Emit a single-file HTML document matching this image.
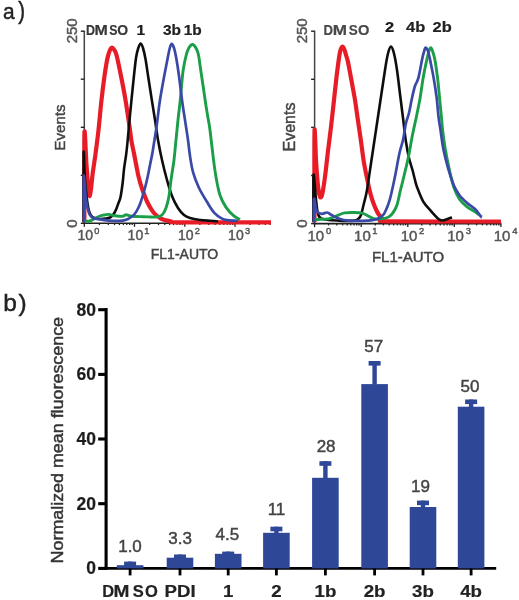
<!DOCTYPE html>
<html><head><meta charset="utf-8"><style>
html,body{margin:0;padding:0;background:#fff;width:519px;height:600px;overflow:hidden;}
svg{display:block;}
text{font-family:"Liberation Sans",sans-serif;}
</style></head><body>
<svg width="519" height="600" viewBox="0 0 519 600">
<defs><filter id="sf" x="0" y="0" width="100%" height="100%"><feGaussianBlur stdDeviation="0.45"/></filter></defs>
<g filter="url(#sf)">
<rect width="519" height="600" fill="#fff"/>
<text transform="translate(3.1,18.9) scale(0.93,1)" font-size="22.5" fill="#222" stroke="#222" stroke-width="0.45">a</text>
<text transform="translate(18.15,18.9) scale(0.85,1)" font-size="24" fill="#222" stroke="#222" stroke-width="0.45">)</text>
<text x="3.3" y="310.9" font-size="24.5" fill="#222" stroke="#222" stroke-width="0.45">b</text>
<text x="18.5" y="310.9" font-size="24.5" fill="#222" stroke="#222" stroke-width="0.45">)</text>
<line x1="84.3" y1="30.7" x2="84.3" y2="224.0" stroke="#444" stroke-width="1.5"/>
<line x1="80.8" y1="31.2" x2="84.3" y2="31.2" stroke="#222" stroke-width="1.4"/>
<line x1="80.8" y1="79.2" x2="84.3" y2="79.2" stroke="#222" stroke-width="1.4"/>
<line x1="80.8" y1="127.3" x2="84.3" y2="127.3" stroke="#222" stroke-width="1.4"/>
<line x1="80.8" y1="175.3" x2="84.3" y2="175.3" stroke="#222" stroke-width="1.4"/>
<line x1="80.8" y1="223.3" x2="84.3" y2="223.3" stroke="#222" stroke-width="1.4"/>
<line x1="83.5" y1="223.3" x2="271" y2="223.3" stroke="#222" stroke-width="1.6"/>
<line x1="84.3" y1="223.3" x2="84.3" y2="226.8" stroke="#222" stroke-width="1.3"/>
<line x1="99.4" y1="223.3" x2="99.4" y2="225.10000000000002" stroke="#222" stroke-width="1.3"/>
<line x1="108.3" y1="223.3" x2="108.3" y2="225.10000000000002" stroke="#222" stroke-width="1.3"/>
<line x1="114.5" y1="223.3" x2="114.5" y2="225.10000000000002" stroke="#222" stroke-width="1.3"/>
<line x1="119.4" y1="223.3" x2="119.4" y2="225.10000000000002" stroke="#222" stroke-width="1.3"/>
<line x1="123.4" y1="223.3" x2="123.4" y2="225.10000000000002" stroke="#222" stroke-width="1.3"/>
<line x1="126.7" y1="223.3" x2="126.7" y2="225.10000000000002" stroke="#222" stroke-width="1.3"/>
<line x1="129.7" y1="223.3" x2="129.7" y2="225.10000000000002" stroke="#222" stroke-width="1.3"/>
<line x1="132.2" y1="223.3" x2="132.2" y2="225.10000000000002" stroke="#222" stroke-width="1.3"/>
<line x1="134.5" y1="223.3" x2="134.5" y2="226.8" stroke="#222" stroke-width="1.3"/>
<line x1="149.7" y1="223.3" x2="149.7" y2="225.10000000000002" stroke="#222" stroke-width="1.3"/>
<line x1="158.5" y1="223.3" x2="158.5" y2="225.10000000000002" stroke="#222" stroke-width="1.3"/>
<line x1="164.8" y1="223.3" x2="164.8" y2="225.10000000000002" stroke="#222" stroke-width="1.3"/>
<line x1="169.6" y1="223.3" x2="169.6" y2="225.10000000000002" stroke="#222" stroke-width="1.3"/>
<line x1="173.6" y1="223.3" x2="173.6" y2="225.10000000000002" stroke="#222" stroke-width="1.3"/>
<line x1="177.0" y1="223.3" x2="177.0" y2="225.10000000000002" stroke="#222" stroke-width="1.3"/>
<line x1="179.9" y1="223.3" x2="179.9" y2="225.10000000000002" stroke="#222" stroke-width="1.3"/>
<line x1="182.5" y1="223.3" x2="182.5" y2="225.10000000000002" stroke="#222" stroke-width="1.3"/>
<line x1="184.8" y1="223.3" x2="184.8" y2="226.8" stroke="#222" stroke-width="1.3"/>
<line x1="199.9" y1="223.3" x2="199.9" y2="225.10000000000002" stroke="#222" stroke-width="1.3"/>
<line x1="208.7" y1="223.3" x2="208.7" y2="225.10000000000002" stroke="#222" stroke-width="1.3"/>
<line x1="215.0" y1="223.3" x2="215.0" y2="225.10000000000002" stroke="#222" stroke-width="1.3"/>
<line x1="219.9" y1="223.3" x2="219.9" y2="225.10000000000002" stroke="#222" stroke-width="1.3"/>
<line x1="223.8" y1="223.3" x2="223.8" y2="225.10000000000002" stroke="#222" stroke-width="1.3"/>
<line x1="227.2" y1="223.3" x2="227.2" y2="225.10000000000002" stroke="#222" stroke-width="1.3"/>
<line x1="230.1" y1="223.3" x2="230.1" y2="225.10000000000002" stroke="#222" stroke-width="1.3"/>
<line x1="232.7" y1="223.3" x2="232.7" y2="225.10000000000002" stroke="#222" stroke-width="1.3"/>
<line x1="235.0" y1="223.3" x2="235.0" y2="226.8" stroke="#222" stroke-width="1.3"/>
<line x1="250.1" y1="223.3" x2="250.1" y2="225.10000000000002" stroke="#222" stroke-width="1.3"/>
<line x1="259.0" y1="223.3" x2="259.0" y2="225.10000000000002" stroke="#222" stroke-width="1.3"/>
<line x1="265.2" y1="223.3" x2="265.2" y2="225.10000000000002" stroke="#222" stroke-width="1.3"/>
<line x1="270.1" y1="223.3" x2="270.1" y2="225.10000000000002" stroke="#222" stroke-width="1.3"/>
<text x="85.2" y="240.4" font-size="14" fill="#555" text-anchor="middle" stroke="#555" stroke-width="0.45">10</text><text x="94.3" y="233.5" font-size="9.2" fill="#555" stroke="#555" stroke-width="0.45">0</text>
<text x="135.4" y="240.4" font-size="14" fill="#555" text-anchor="middle" stroke="#555" stroke-width="0.45">10</text><text x="144.2" y="233.5" font-size="9.2" fill="#555" stroke="#555" stroke-width="0.45">1</text>
<text x="185.7" y="240.4" font-size="14" fill="#555" text-anchor="middle" stroke="#555" stroke-width="0.45">10</text><text x="194.7" y="233.5" font-size="9.2" fill="#555" stroke="#555" stroke-width="0.45">2</text>
<text x="235.9" y="240.4" font-size="14" fill="#555" text-anchor="middle" stroke="#555" stroke-width="0.45">10</text><text x="245.0" y="233.5" font-size="9.2" fill="#555" stroke="#555" stroke-width="0.45">3</text>
<text x="184.5" y="258.5" font-size="14" fill="#444" text-anchor="middle" stroke="#444" stroke-width="0.45">FL1-AUTO</text>
<text transform="translate(77.3,30.8) rotate(-90)" font-size="15" fill="#555" text-anchor="middle" stroke="#555" stroke-width="0.45">250</text>
<text transform="translate(77.0,223.5) rotate(-90)" font-size="15" fill="#555" text-anchor="middle" stroke="#555" stroke-width="0.45">0</text>
<text transform="translate(64.9,127.5) rotate(-90)" font-size="15" fill="#444" text-anchor="middle" stroke="#444" stroke-width="0.45">Events</text>
<text transform="translate(86.00,35.30) scale(0.86,1)" font-size="14.5" font-weight="bold" fill="#383838" text-anchor="start" stroke="#383838" stroke-width="0.2">D</text>
<text transform="translate(94.60,35.30) scale(1.1,1)" font-size="14.5" font-weight="bold" fill="#383838" text-anchor="start" stroke="#383838" stroke-width="0.2">M</text>
<text transform="translate(109.14,35.30) scale(0.85,1)" font-size="14.5" font-weight="bold" fill="#383838" text-anchor="start" stroke="#383838" stroke-width="0.2">S</text>
<text transform="translate(117.23,35.30) scale(0.96,1)" font-size="14.5" font-weight="bold" fill="#383838" text-anchor="start" stroke="#383838" stroke-width="0.2">O</text>
<text transform="translate(140.70,35.10) scale(1.12,1)" font-size="13.8" font-weight="bold" fill="#1a1a1a" text-anchor="middle" stroke="#1a1a1a" stroke-width="0.2">1</text>
<text transform="translate(172.00,35.10) scale(1.12,1)" font-size="13.8" font-weight="bold" fill="#222" text-anchor="middle" stroke="#222" stroke-width="0.2">3b</text>
<text transform="translate(192.80,35.10) scale(1.12,1)" font-size="13.8" font-weight="bold" fill="#222" text-anchor="middle" stroke="#222" stroke-width="0.2">1b</text>
<path d="M84.4,222.3 C84.4,207.4 84.1,142.6 84.4,133.0 C84.8,123.5 85.8,155.8 86.5,165.0 C87.2,174.2 87.8,182.8 88.3,188.0 C88.8,193.2 89.0,195.8 89.5,196.0 C90.0,196.2 90.5,192.5 91.0,189.0 C91.5,185.5 91.8,180.8 92.5,175.0 C93.2,169.2 94.5,161.5 95.5,154.0 C96.5,146.5 97.5,139.0 98.5,130.0 C99.5,121.0 100.5,109.0 101.5,100.0 C102.5,91.0 103.5,83.0 104.5,76.0 C105.5,69.0 106.6,62.3 107.5,58.0 C108.4,53.7 109.2,51.8 110.0,50.0 C110.8,48.2 111.3,47.6 112.0,47.5 C112.7,47.4 113.2,48.2 114.0,49.5 C114.8,50.8 115.3,50.6 116.5,55.0 C117.7,59.4 119.5,68.5 121.0,76.0 C122.5,83.5 124.0,91.0 125.5,100.0 C127.0,109.0 129.0,123.3 130.0,130.0 C131.0,136.7 130.7,136.2 131.3,140.0 C131.9,143.8 132.9,148.3 133.8,152.5 C134.6,156.7 135.4,160.8 136.2,165.0 C137.1,169.2 137.7,173.3 138.8,177.5 C139.8,181.7 141.0,185.8 142.5,190.0 C144.0,194.2 145.7,198.8 147.5,202.5 C149.3,206.2 151.3,209.8 153.5,212.5 C155.7,215.2 158.1,217.1 160.9,218.6 C163.8,220.1 167.4,220.7 170.6,221.3 C173.8,221.9 163.3,222.1 180.0,222.3 C196.7,222.5 255.8,222.3 271.0,222.3" fill="none" stroke="#e81f28" stroke-width="4.2" stroke-linejoin="round" stroke-linecap="butt"/>
<path d="M83.6,222.3 C83.6,210.8 83.4,160.7 83.6,153.0 C83.8,145.3 84.4,169.3 84.8,176.0 C85.2,182.7 85.7,188.3 86.2,193.0 C86.7,197.7 87.1,201.0 87.6,204.0 C88.1,207.0 88.4,209.1 89.0,211.0 C89.6,212.9 90.1,214.3 91.0,215.5 C91.9,216.7 93.0,217.4 94.5,218.0 C96.0,218.6 98.1,218.9 100.0,219.0 C101.9,219.1 104.3,218.8 106.0,218.6 C107.7,218.3 108.9,218.0 110.0,217.5 C111.1,217.0 111.7,216.3 112.5,215.5 C113.3,214.7 113.9,213.7 114.6,212.5 C115.3,211.3 115.9,210.0 116.5,208.5 C117.1,207.0 117.6,205.5 118.3,203.5 C119.0,201.5 119.9,200.2 120.6,196.7 C121.3,193.2 122.1,187.2 122.7,182.5 C123.3,177.8 123.5,173.0 124.1,168.3 C124.7,163.6 125.6,158.9 126.2,154.2 C126.8,149.5 127.1,146.5 127.7,140.0 C128.3,133.5 129.1,124.2 130.0,115.0 C130.9,105.8 132.0,94.5 133.0,85.0 C134.0,75.5 135.1,64.2 136.0,58.0 C136.9,51.8 137.7,49.9 138.5,47.5 C139.3,45.1 139.9,43.4 140.7,43.5 C141.4,43.6 142.2,45.4 143.0,48.0 C143.8,50.6 144.6,54.0 145.5,59.0 C146.4,64.0 147.4,71.5 148.4,78.0 C149.4,84.5 150.4,91.0 151.5,98.0 C152.6,105.0 153.9,113.0 155.0,120.0 C156.1,127.0 156.8,133.3 158.0,140.0 C159.2,146.7 160.5,153.3 162.0,160.0 C163.5,166.7 165.3,174.0 167.0,180.0 C168.7,186.0 170.2,191.3 172.0,196.0 C173.8,200.7 176.0,204.8 178.0,208.0 C180.0,211.2 182.0,213.3 184.0,215.0 C186.0,216.7 187.3,217.2 190.0,218.0 C192.7,218.8 196.7,219.5 200.0,220.0 C203.3,220.5 207.0,220.6 210.0,220.8 C213.0,221.1 216.7,221.4 218.0,221.5" fill="none" stroke="#111" stroke-width="2.6" stroke-linejoin="round" stroke-linecap="butt"/>
<path d="M84.5,221.3 C85.4,221.2 88.2,221.5 90.0,221.0 C91.8,220.5 93.7,219.0 95.4,218.2 C97.1,217.4 98.7,216.5 100.0,216.0 C101.3,215.5 101.6,215.5 103.1,215.2 C104.6,214.9 107.0,214.3 108.9,214.4 C110.8,214.5 112.5,215.4 114.7,215.7 C117.0,216.0 120.5,216.5 122.4,216.3 C124.3,216.2 124.6,214.8 126.2,214.8 C127.8,214.8 129.1,216.0 132.0,216.3 C134.9,216.6 140.6,216.6 143.6,216.7 C146.6,216.8 147.9,216.9 150.0,217.0 C152.1,217.1 154.0,217.3 156.0,217.0 C158.0,216.7 160.3,216.5 162.0,215.0 C163.7,213.5 164.8,211.2 166.0,208.0 C167.2,204.8 168.2,200.7 169.0,196.0 C169.8,191.3 170.2,186.0 171.0,180.0 C171.8,174.0 173.2,166.7 174.0,160.0 C174.8,153.3 175.3,146.7 176.0,140.0 C176.7,133.3 177.3,126.7 178.0,120.0 C178.7,113.3 179.7,105.8 180.3,100.0 C180.9,94.2 181.1,90.0 181.6,85.0 C182.1,80.0 182.5,74.8 183.2,70.0 C183.9,65.2 185.1,59.7 186.0,56.0 C186.9,52.3 187.7,49.9 188.8,48.0 C189.9,46.1 191.2,44.5 192.4,44.5 C193.6,44.5 195.0,46.2 196.0,48.0 C197.0,49.8 197.8,51.6 198.5,55.0 C199.2,58.4 199.8,63.7 200.5,68.5 C201.2,73.3 202.0,78.5 202.8,84.0 C203.6,89.5 204.5,95.8 205.3,101.3 C206.1,106.8 207.0,111.9 207.8,116.7 C208.6,121.5 209.1,123.0 210.0,130.0 C210.9,137.0 212.4,150.9 213.4,158.9 C214.4,166.9 215.1,172.1 216.2,178.2 C217.3,184.3 218.5,190.7 220.1,195.5 C221.7,200.3 223.7,203.7 225.9,207.1 C228.2,210.5 231.2,213.6 233.6,215.7 C235.9,217.8 238.9,218.9 240.0,219.5" fill="none" stroke="#1a9e4a" stroke-width="2.9" stroke-linejoin="round" stroke-linecap="butt"/>
<path d="M84.0,222.3 C84.0,214.6 83.5,179.7 83.8,176.0 C84.1,172.3 85.1,193.8 86.0,200.0 C86.9,206.2 88.0,210.1 89.0,213.0 C90.0,215.9 90.8,216.6 92.0,217.5 C93.2,218.4 93.2,218.1 96.0,218.6 C98.8,219.1 104.6,220.3 109.0,220.6 C113.4,220.9 119.2,220.9 122.4,220.6 C125.6,220.3 126.4,219.7 128.0,219.0 C129.6,218.3 130.8,217.4 132.0,216.5 C133.2,215.6 134.0,214.8 135.0,213.5 C136.0,212.2 137.1,210.3 138.0,208.5 C138.9,206.7 139.5,205.6 140.6,202.5 C141.7,199.4 143.2,194.2 144.4,190.0 C145.6,185.8 146.6,181.7 147.5,177.5 C148.4,173.3 149.2,169.2 150.0,165.0 C150.8,160.8 151.8,156.7 152.5,152.5 C153.2,148.3 153.8,144.6 154.5,140.0 C155.2,135.4 155.9,131.7 156.8,125.0 C157.7,118.3 158.8,107.8 160.0,100.0 C161.2,92.2 162.6,85.0 163.8,78.2 C165.1,71.4 166.5,63.9 167.5,58.9 C168.5,53.9 169.1,50.5 169.8,48.0 C170.5,45.5 171.0,43.9 171.7,43.9 C172.4,43.9 173.2,45.5 174.0,48.0 C174.8,50.5 175.5,53.9 176.4,58.9 C177.3,63.9 178.4,71.4 179.3,78.2 C180.2,85.0 181.1,93.0 182.0,100.0 C182.9,107.0 184.0,113.3 185.0,120.0 C186.0,126.7 187.2,134.0 188.0,140.0 C188.8,146.0 189.2,150.6 190.0,156.0 C190.8,161.4 191.6,167.1 193.1,172.4 C194.6,177.7 196.7,183.0 198.9,187.8 C201.2,192.6 204.0,197.1 206.6,201.3 C209.2,205.5 211.7,210.0 214.3,212.9 C216.9,215.8 219.8,217.4 222.0,218.6 C224.2,219.8 225.1,219.8 227.8,220.2 C230.5,220.6 236.3,220.9 238.0,221.0" fill="none" stroke="#3a4aa6" stroke-width="2.7" stroke-linejoin="round" stroke-linecap="butt"/>
<line x1="314.6" y1="30.7" x2="314.6" y2="224.29999999999998" stroke="#444" stroke-width="1.5"/>
<line x1="311.1" y1="31.2" x2="314.6" y2="31.2" stroke="#222" stroke-width="1.4"/>
<line x1="311.1" y1="79.3" x2="314.6" y2="79.3" stroke="#222" stroke-width="1.4"/>
<line x1="311.1" y1="127.4" x2="314.6" y2="127.4" stroke="#222" stroke-width="1.4"/>
<line x1="311.1" y1="175.5" x2="314.6" y2="175.5" stroke="#222" stroke-width="1.4"/>
<line x1="311.1" y1="223.6" x2="314.6" y2="223.6" stroke="#222" stroke-width="1.4"/>
<line x1="313.8" y1="223.6" x2="501.3" y2="223.6" stroke="#222" stroke-width="1.6"/>
<line x1="314.6" y1="223.6" x2="314.6" y2="227.1" stroke="#222" stroke-width="1.3"/>
<line x1="328.6" y1="223.6" x2="328.6" y2="225.4" stroke="#222" stroke-width="1.3"/>
<line x1="336.8" y1="223.6" x2="336.8" y2="225.4" stroke="#222" stroke-width="1.3"/>
<line x1="342.6" y1="223.6" x2="342.6" y2="225.4" stroke="#222" stroke-width="1.3"/>
<line x1="347.2" y1="223.6" x2="347.2" y2="225.4" stroke="#222" stroke-width="1.3"/>
<line x1="350.8" y1="223.6" x2="350.8" y2="225.4" stroke="#222" stroke-width="1.3"/>
<line x1="354.0" y1="223.6" x2="354.0" y2="225.4" stroke="#222" stroke-width="1.3"/>
<line x1="356.7" y1="223.6" x2="356.7" y2="225.4" stroke="#222" stroke-width="1.3"/>
<line x1="359.0" y1="223.6" x2="359.0" y2="225.4" stroke="#222" stroke-width="1.3"/>
<line x1="361.2" y1="223.6" x2="361.2" y2="227.1" stroke="#222" stroke-width="1.3"/>
<line x1="375.2" y1="223.6" x2="375.2" y2="225.4" stroke="#222" stroke-width="1.3"/>
<line x1="383.4" y1="223.6" x2="383.4" y2="225.4" stroke="#222" stroke-width="1.3"/>
<line x1="389.2" y1="223.6" x2="389.2" y2="225.4" stroke="#222" stroke-width="1.3"/>
<line x1="393.7" y1="223.6" x2="393.7" y2="225.4" stroke="#222" stroke-width="1.3"/>
<line x1="397.4" y1="223.6" x2="397.4" y2="225.4" stroke="#222" stroke-width="1.3"/>
<line x1="400.5" y1="223.6" x2="400.5" y2="225.4" stroke="#222" stroke-width="1.3"/>
<line x1="403.2" y1="223.6" x2="403.2" y2="225.4" stroke="#222" stroke-width="1.3"/>
<line x1="405.6" y1="223.6" x2="405.6" y2="225.4" stroke="#222" stroke-width="1.3"/>
<line x1="407.8" y1="223.6" x2="407.8" y2="227.1" stroke="#222" stroke-width="1.3"/>
<line x1="421.8" y1="223.6" x2="421.8" y2="225.4" stroke="#222" stroke-width="1.3"/>
<line x1="430.0" y1="223.6" x2="430.0" y2="225.4" stroke="#222" stroke-width="1.3"/>
<line x1="435.8" y1="223.6" x2="435.8" y2="225.4" stroke="#222" stroke-width="1.3"/>
<line x1="440.3" y1="223.6" x2="440.3" y2="225.4" stroke="#222" stroke-width="1.3"/>
<line x1="444.0" y1="223.6" x2="444.0" y2="225.4" stroke="#222" stroke-width="1.3"/>
<line x1="447.1" y1="223.6" x2="447.1" y2="225.4" stroke="#222" stroke-width="1.3"/>
<line x1="449.8" y1="223.6" x2="449.8" y2="225.4" stroke="#222" stroke-width="1.3"/>
<line x1="452.2" y1="223.6" x2="452.2" y2="225.4" stroke="#222" stroke-width="1.3"/>
<line x1="454.3" y1="223.6" x2="454.3" y2="227.1" stroke="#222" stroke-width="1.3"/>
<line x1="468.4" y1="223.6" x2="468.4" y2="225.4" stroke="#222" stroke-width="1.3"/>
<line x1="476.6" y1="223.6" x2="476.6" y2="225.4" stroke="#222" stroke-width="1.3"/>
<line x1="482.4" y1="223.6" x2="482.4" y2="225.4" stroke="#222" stroke-width="1.3"/>
<line x1="486.9" y1="223.6" x2="486.9" y2="225.4" stroke="#222" stroke-width="1.3"/>
<line x1="490.6" y1="223.6" x2="490.6" y2="225.4" stroke="#222" stroke-width="1.3"/>
<line x1="493.7" y1="223.6" x2="493.7" y2="225.4" stroke="#222" stroke-width="1.3"/>
<line x1="496.4" y1="223.6" x2="496.4" y2="225.4" stroke="#222" stroke-width="1.3"/>
<line x1="498.8" y1="223.6" x2="498.8" y2="225.4" stroke="#222" stroke-width="1.3"/>
<line x1="500.9" y1="223.6" x2="500.9" y2="227.1" stroke="#222" stroke-width="1.3"/>
<text x="315.8" y="240.6" font-size="15" fill="#555" text-anchor="middle" stroke="#555" stroke-width="0.45">10</text><text x="326.0" y="233.5" font-size="9.4" fill="#555" stroke="#555" stroke-width="0.45">0</text>
<text x="362.4" y="240.6" font-size="15" fill="#555" text-anchor="middle" stroke="#555" stroke-width="0.45">10</text><text x="372.2" y="233.5" font-size="9.4" fill="#555" stroke="#555" stroke-width="0.45">1</text>
<text x="409.0" y="240.6" font-size="15" fill="#555" text-anchor="middle" stroke="#555" stroke-width="0.45">10</text><text x="419.1" y="233.5" font-size="9.4" fill="#555" stroke="#555" stroke-width="0.45">2</text>
<text x="455.5" y="240.6" font-size="15" fill="#555" text-anchor="middle" stroke="#555" stroke-width="0.45">10</text><text x="465.7" y="233.5" font-size="9.4" fill="#555" stroke="#555" stroke-width="0.45">3</text>
<text x="502.1" y="240.6" font-size="15" fill="#555" text-anchor="middle" stroke="#555" stroke-width="0.45">10</text><text x="512.3" y="233.5" font-size="9.4" fill="#555" stroke="#555" stroke-width="0.45">4</text>
<text x="408" y="261.5" font-size="15" fill="#444" text-anchor="middle" stroke="#444" stroke-width="0.45">FL1-AUTO</text>
<text transform="translate(307.4,30.8) rotate(-90)" font-size="15" fill="#555" text-anchor="middle" stroke="#555" stroke-width="0.45">250</text>
<text transform="translate(307.0,223.5) rotate(-90)" font-size="15" fill="#555" text-anchor="middle" stroke="#555" stroke-width="0.45">0</text>
<text transform="translate(295.1,127) rotate(-90)" font-size="16" fill="#444" text-anchor="middle" stroke="#444" stroke-width="0.45">Events</text>
<text transform="translate(323.40,35.30) scale(0.86,1)" font-size="15.3" font-weight="bold" fill="#484848" text-anchor="start" stroke="#484848" stroke-width="0.2">D</text>
<text transform="translate(332.65,35.30) scale(1.12,1)" font-size="15.3" font-weight="bold" fill="#484848" text-anchor="start" stroke="#484848" stroke-width="0.2">M</text>
<text transform="translate(348.80,35.30) scale(0.88,1)" font-size="15.3" font-weight="bold" fill="#484848" text-anchor="start" stroke="#484848" stroke-width="0.2">S</text>
<text transform="translate(357.90,35.30) scale(0.96,1)" font-size="15.3" font-weight="bold" fill="#484848" text-anchor="start" stroke="#484848" stroke-width="0.2">O</text>
<text transform="translate(389.60,32.20) scale(1.16,1)" font-size="14.2" font-weight="bold" fill="#1a1a1a" text-anchor="middle" stroke="#1a1a1a" stroke-width="0.2">2</text>
<text transform="translate(415.60,32.20) scale(1.16,1)" font-size="14.2" font-weight="bold" fill="#222" text-anchor="middle" stroke="#222" stroke-width="0.2">4b</text>
<text transform="translate(442.20,32.20) scale(1.16,1)" font-size="14.2" font-weight="bold" fill="#222" text-anchor="middle" stroke="#222" stroke-width="0.2">2b</text>
<path d="M314.5,222.3 C314.5,207.2 314.2,141.9 314.5,131.5 C314.8,121.1 315.5,151.6 316.0,160.0 C316.5,168.4 317.1,176.3 317.6,182.0 C318.1,187.7 318.7,191.4 319.2,194.0 C319.7,196.6 320.2,197.5 320.7,197.5 C321.2,197.5 321.8,196.2 322.3,194.0 C322.9,191.8 323.4,187.7 324.0,184.0 C324.6,180.3 324.9,177.5 325.6,172.0 C326.3,166.5 327.1,158.5 328.0,151.0 C328.9,143.5 330.0,135.5 331.0,127.0 C332.0,118.5 333.0,109.0 334.0,100.0 C335.0,91.0 336.0,81.0 337.0,73.0 C338.0,65.0 339.1,56.4 340.0,52.0 C340.9,47.6 341.6,46.9 342.4,46.6 C343.1,46.3 343.9,48.6 344.5,50.0 C345.1,51.4 345.4,53.0 346.0,55.0 C346.6,57.0 347.2,58.2 348.0,62.0 C348.8,65.8 349.9,72.2 351.0,78.0 C352.1,83.8 353.4,90.7 354.5,97.0 C355.6,103.3 356.5,110.3 357.3,116.0 C358.1,121.7 358.8,126.2 359.5,131.0 C360.2,135.8 360.8,139.7 361.5,145.0 C362.2,150.3 363.1,157.5 364.0,163.0 C364.9,168.5 366.0,173.2 367.0,178.0 C368.0,182.8 369.0,188.0 370.0,192.0 C371.0,196.0 371.9,198.9 373.0,202.0 C374.1,205.1 375.4,208.2 376.5,210.5 C377.6,212.8 378.3,214.0 379.5,215.5 C380.7,217.0 381.8,218.5 383.5,219.5 C385.2,220.5 370.4,221.0 390.0,221.3 C409.6,221.6 482.5,221.5 501.0,221.5" fill="none" stroke="#e81f28" stroke-width="4.2" stroke-linejoin="round" stroke-linecap="butt"/>
<path d="M313.5,222.3 C313.5,214.4 313.1,179.2 313.5,175.0 C313.9,170.8 315.1,191.2 315.8,197.4 C316.5,203.6 316.7,208.5 317.7,212.0 C318.7,215.5 318.1,217.2 321.6,218.6 C325.1,220.0 333.4,220.3 338.9,220.6 C344.3,220.9 351.1,220.9 354.3,220.6 C357.5,220.3 356.9,219.9 358.0,219.0 C359.1,218.1 360.0,217.7 361.0,215.0 C362.0,212.3 363.0,207.2 364.0,203.0 C365.0,198.8 365.8,197.2 367.0,190.0 C368.2,182.8 370.0,170.0 371.5,160.0 C373.0,150.0 374.5,140.0 376.0,130.0 C377.5,120.0 379.0,110.0 380.5,100.0 C382.0,90.0 383.8,77.8 385.0,70.0 C386.2,62.2 387.0,57.4 388.0,53.5 C389.0,49.6 390.0,46.6 391.0,46.6 C392.0,46.6 393.0,49.6 394.0,53.5 C395.0,57.4 396.0,63.2 397.0,70.0 C398.0,76.8 399.0,86.0 400.0,94.0 C401.0,102.0 402.0,110.0 403.0,118.0 C404.0,126.0 405.0,135.3 406.0,142.0 C407.0,148.7 407.9,153.3 409.0,158.0 C410.1,162.7 411.5,166.3 412.5,170.0 C413.5,173.7 414.2,177.0 415.0,180.0 C415.8,183.0 415.9,184.2 417.3,187.8 C418.7,191.4 420.9,197.5 423.1,201.3 C425.4,205.2 428.2,208.0 430.8,210.9 C433.4,213.8 436.6,217.4 438.5,219.0 C440.4,220.6 441.1,220.4 442.4,220.5 C443.6,220.6 444.7,219.9 446.0,219.5 C447.3,219.1 449.0,218.3 450.0,218.0 C451.0,217.7 451.7,217.6 452.0,217.5" fill="none" stroke="#111" stroke-width="2.6" stroke-linejoin="round" stroke-linecap="butt"/>
<path d="M314.0,221.0 C314.3,220.8 313.2,220.0 315.8,219.6 C318.4,219.2 325.5,219.4 329.3,218.6 C333.1,217.8 336.3,215.8 338.9,214.8 C341.5,213.9 342.1,213.3 344.7,212.9 C347.3,212.5 351.4,212.4 354.3,212.5 C357.2,212.6 359.8,212.7 362.0,213.2 C364.2,213.7 365.9,214.8 367.8,215.7 C369.7,216.6 371.0,218.1 373.6,218.6 C376.2,219.1 380.6,218.9 383.2,218.6 C385.8,218.3 387.4,217.6 389.0,216.7 C390.6,215.8 391.6,214.8 392.9,212.9 C394.2,211.0 395.7,208.8 397.0,205.0 C398.3,201.2 399.3,194.8 400.5,190.0 C401.7,185.2 402.8,181.2 404.0,176.0 C405.2,170.8 406.7,165.1 408.0,159.0 C409.3,152.9 410.7,144.4 411.6,139.6 C412.5,134.8 412.7,133.8 413.5,130.0 C414.3,126.2 415.3,122.1 416.4,116.7 C417.5,111.3 419.1,103.8 420.2,97.4 C421.3,91.0 422.0,84.6 423.1,78.2 C424.2,71.8 426.0,63.4 427.0,58.9 C428.0,54.4 428.4,52.9 429.0,51.0 C429.6,49.1 430.2,47.7 430.8,47.7 C431.4,47.7 431.9,49.1 432.5,51.0 C433.1,52.9 433.8,54.4 434.7,58.9 C435.6,63.4 436.8,71.8 437.6,78.2 C438.4,84.6 438.9,91.0 439.5,97.4 C440.1,103.8 440.9,111.3 441.4,116.7 C441.9,122.1 442.0,124.6 442.6,130.0 C443.2,135.4 444.2,142.9 445.3,149.3 C446.4,155.7 447.7,162.1 449.1,168.5 C450.6,174.9 452.2,182.7 454.0,187.8 C455.8,193.0 457.5,196.2 459.7,199.4 C461.9,202.6 464.8,205.0 467.4,207.1 C470.0,209.2 473.2,210.6 475.1,211.9 C477.0,213.2 478.4,214.3 479.0,214.8" fill="none" stroke="#1a9e4a" stroke-width="2.9" stroke-linejoin="round" stroke-linecap="butt"/>
<path d="M314.0,222.3 C314.0,218.4 313.6,200.9 314.0,199.0 C314.4,197.1 315.4,208.4 316.7,210.9 C318.0,213.4 319.8,213.5 321.6,213.8 C323.4,214.1 325.7,212.3 327.3,212.5 C328.9,212.7 329.3,213.8 331.2,214.8 C333.1,215.8 336.0,217.6 338.9,218.6 C341.8,219.6 343.7,220.3 348.5,220.6 C353.3,220.9 363.0,220.9 367.8,220.6 C372.6,220.3 374.8,220.0 377.4,219.0 C380.0,218.0 381.9,216.0 383.2,214.8 C384.5,213.6 384.2,213.6 385.0,212.0 C385.8,210.4 387.0,207.8 388.0,205.0 C389.0,202.2 389.8,200.2 391.0,195.0 C392.2,189.8 394.1,181.0 395.5,174.0 C396.9,167.0 398.2,158.7 399.5,153.0 C400.8,147.3 401.9,145.0 403.0,140.0 C404.1,135.0 405.0,127.5 406.0,123.0 C407.0,118.5 408.0,117.2 409.0,113.0 C410.0,108.8 411.0,102.5 412.0,98.0 C413.0,93.5 413.9,89.3 415.0,86.0 C416.1,82.7 417.1,82.7 418.3,78.2 C419.5,73.7 421.2,63.6 422.2,58.9 C423.2,54.2 423.9,51.9 424.5,50.0 C425.1,48.1 425.4,47.5 426.0,47.7 C426.6,47.9 427.4,49.1 428.0,51.0 C428.6,52.9 428.9,54.4 429.9,58.9 C430.8,63.4 432.6,71.8 433.7,78.2 C434.8,84.6 435.8,91.0 436.6,97.4 C437.4,103.8 437.9,111.3 438.5,116.7 C439.1,122.1 439.7,124.6 440.5,130.0 C441.3,135.4 442.1,142.9 443.4,149.3 C444.7,155.7 446.4,162.4 448.2,168.5 C450.0,174.6 452.1,181.4 454.0,185.9 C455.9,190.4 457.5,192.6 459.7,195.5 C461.9,198.4 464.8,200.9 467.4,203.2 C470.0,205.4 472.9,206.8 475.1,209.0 C477.4,211.2 479.8,215.4 480.9,216.7 C482.0,218.0 481.8,216.9 482.0,217.0" fill="none" stroke="#3a4aa6" stroke-width="2.7" stroke-linejoin="round" stroke-linecap="butt"/>
<line x1="106.1" y1="308.1" x2="106.1" y2="569.7" stroke="#000" stroke-width="3.1"/>
<line x1="98.2" y1="568.4" x2="106.1" y2="568.4" stroke="#000" stroke-width="3.1"/>
<text x="95.9" y="574.4" font-size="17.5" font-weight="bold" fill="#1e1e1e" text-anchor="end" stroke="#1e1e1e" stroke-width="0.2">0</text>
<line x1="98.2" y1="503.7" x2="106.1" y2="503.7" stroke="#000" stroke-width="3.1"/>
<text x="95.9" y="509.7" font-size="17.5" font-weight="bold" fill="#1e1e1e" text-anchor="end" stroke="#1e1e1e" stroke-width="0.2">20</text>
<line x1="98.2" y1="439.0" x2="106.1" y2="439.0" stroke="#000" stroke-width="3.1"/>
<text x="95.9" y="445.0" font-size="17.5" font-weight="bold" fill="#1e1e1e" text-anchor="end" stroke="#1e1e1e" stroke-width="0.2">40</text>
<line x1="98.2" y1="374.4" x2="106.1" y2="374.4" stroke="#000" stroke-width="3.1"/>
<text x="95.9" y="380.4" font-size="17.5" font-weight="bold" fill="#1e1e1e" text-anchor="end" stroke="#1e1e1e" stroke-width="0.2">60</text>
<line x1="98.2" y1="309.7" x2="106.1" y2="309.7" stroke="#000" stroke-width="3.1"/>
<text x="95.9" y="315.7" font-size="17.5" font-weight="bold" fill="#1e1e1e" text-anchor="end" stroke="#1e1e1e" stroke-width="0.2">80</text>
<line x1="104.6" y1="568.4" x2="496.2" y2="568.4" stroke="#000" stroke-width="2.7"/>
<text transform="translate(63.3,440.2) rotate(-90) scale(1.065,1)" font-size="16.8" fill="#333" text-anchor="middle" stroke="#333" stroke-width="0.45">Normalized mean fluorescence</text>
<rect x="116.8" y="565.2" width="26.6" height="3.2" fill="#2f4797"/>
<rect x="127.9" y="561.6" width="4.4" height="4.1" fill="#2f4797"/>
<rect x="124.1" y="561.6" width="12" height="4.6" fill="#2f4797"/>
<text x="130.0" y="551.6" font-size="17" fill="#444" text-anchor="middle" stroke="#444" stroke-width="0.45">1.0</text>
<line x1="130.1" y1="568.4" x2="130.1" y2="575.4" stroke="#000" stroke-width="2.8"/>
<text x="102.2" y="597.1" font-size="16.5" font-weight="bold" fill="#222" stroke="#222" stroke-width="0.2">D</text>
<text transform="translate(113.6,597.1) scale(1.16,1)" font-size="16.5" font-weight="bold" fill="#222" stroke="#222" stroke-width="0.2">M</text>
<text x="132.7 145.0" y="597.1" font-size="16.5" font-weight="bold" fill="#222" stroke="#222" stroke-width="0.2">SO</text>
<rect x="166.7" y="557.7" width="26.6" height="10.7" fill="#2f4797"/>
<rect x="177.8" y="554.5" width="4.4" height="3.7" fill="#2f4797"/>
<rect x="174.0" y="554.5" width="12" height="4.6" fill="#2f4797"/>
<text x="180.1" y="543.6" font-size="17" fill="#444" text-anchor="middle" stroke="#444" stroke-width="0.45">3.3</text>
<line x1="180.0" y1="568.4" x2="180.0" y2="575.4" stroke="#000" stroke-width="2.8"/>
<text transform="translate(180.00,597.30) scale(1.1,1)" font-size="17" font-weight="bold" fill="#222" text-anchor="middle" stroke="#222" stroke-width="0.2">PDI</text>
<rect x="214.9" y="553.8" width="26.6" height="14.6" fill="#2f4797"/>
<rect x="226.0" y="551.6" width="4.4" height="2.7" fill="#2f4797"/>
<rect x="222.2" y="551.6" width="12" height="4.6" fill="#2f4797"/>
<text x="227.4" y="540.2" font-size="17" fill="#444" text-anchor="middle" stroke="#444" stroke-width="0.45">4.5</text>
<line x1="228.2" y1="568.4" x2="228.2" y2="575.4" stroke="#000" stroke-width="2.8"/>
<text transform="translate(228.20,597.30) scale(1.1,1)" font-size="17" font-weight="bold" fill="#222" text-anchor="middle" stroke="#222" stroke-width="0.2">1</text>
<rect x="263.1" y="532.8" width="26.6" height="35.6" fill="#2f4797"/>
<rect x="274.2" y="526.7" width="4.4" height="6.6" fill="#2f4797"/>
<rect x="270.4" y="526.7" width="12" height="4.6" fill="#2f4797"/>
<text x="276.5" y="514.5" font-size="17" fill="#444" text-anchor="middle" stroke="#444" stroke-width="0.45">11</text>
<line x1="276.4" y1="568.4" x2="276.4" y2="575.4" stroke="#000" stroke-width="2.8"/>
<text transform="translate(276.40,597.30) scale(1.1,1)" font-size="17" font-weight="bold" fill="#222" text-anchor="middle" stroke="#222" stroke-width="0.2">2</text>
<rect x="312.1" y="477.8" width="26.6" height="90.6" fill="#2f4797"/>
<rect x="323.2" y="461.2" width="4.4" height="17.1" fill="#2f4797"/>
<rect x="319.4" y="461.2" width="12" height="4.6" fill="#2f4797"/>
<text x="326.1" y="452.0" font-size="17" fill="#444" text-anchor="middle" stroke="#444" stroke-width="0.45">28</text>
<line x1="325.4" y1="568.4" x2="325.4" y2="575.4" stroke="#000" stroke-width="2.8"/>
<text transform="translate(325.40,597.30) scale(1.1,1)" font-size="17" font-weight="bold" fill="#222" text-anchor="middle" stroke="#222" stroke-width="0.2">1b</text>
<rect x="361.3" y="384.1" width="26.6" height="184.3" fill="#2f4797"/>
<rect x="372.4" y="361.0" width="4.4" height="23.6" fill="#2f4797"/>
<rect x="368.6" y="361.0" width="12" height="4.6" fill="#2f4797"/>
<text x="373.8" y="352.2" font-size="17" fill="#444" text-anchor="middle" stroke="#444" stroke-width="0.45">57</text>
<line x1="374.6" y1="568.4" x2="374.6" y2="575.4" stroke="#000" stroke-width="2.8"/>
<text transform="translate(374.60,597.30) scale(1.1,1)" font-size="17" font-weight="bold" fill="#222" text-anchor="middle" stroke="#222" stroke-width="0.2">2b</text>
<rect x="409.7" y="507.0" width="26.6" height="61.4" fill="#2f4797"/>
<rect x="420.8" y="500.6" width="4.4" height="6.9" fill="#2f4797"/>
<rect x="417.0" y="500.6" width="12" height="4.6" fill="#2f4797"/>
<text x="420.4" y="491.6" font-size="17" fill="#444" text-anchor="middle" stroke="#444" stroke-width="0.45">19</text>
<line x1="423.0" y1="568.4" x2="423.0" y2="575.4" stroke="#000" stroke-width="2.8"/>
<text transform="translate(423.00,597.30) scale(1.1,1)" font-size="17" font-weight="bold" fill="#222" text-anchor="middle" stroke="#222" stroke-width="0.2">3b</text>
<rect x="457.8" y="406.7" width="26.6" height="161.7" fill="#2f4797"/>
<rect x="468.9" y="399.5" width="4.4" height="7.7" fill="#2f4797"/>
<rect x="465.1" y="399.5" width="12" height="4.6" fill="#2f4797"/>
<text x="470.0" y="392.2" font-size="17" fill="#444" text-anchor="middle" stroke="#444" stroke-width="0.45">50</text>
<line x1="471.1" y1="568.4" x2="471.1" y2="575.4" stroke="#000" stroke-width="2.8"/>
<text transform="translate(471.10,597.30) scale(1.1,1)" font-size="17" font-weight="bold" fill="#222" text-anchor="middle" stroke="#222" stroke-width="0.2">4b</text>
</g>
</svg>
</body></html>
